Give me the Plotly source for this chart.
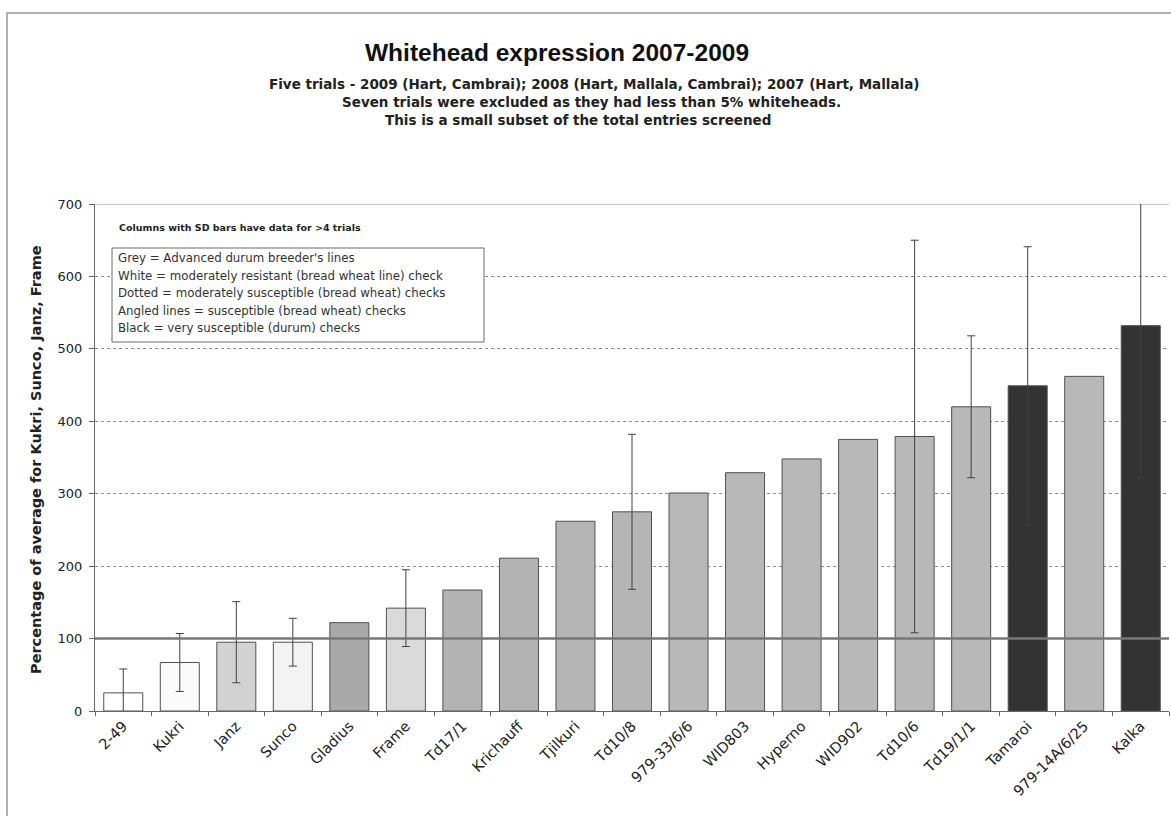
import plotly.graph_objects as go

categories = ["2-49", "Kukri", "Janz", "Sunco", "Gladius", "Frame", "Td17/1", "Krichauff",
              "Tjilkuri", "Td10/8", "979-33/6/6", "WID803", "Hyperno", "WID902", "Td10/6",
              "Td19/1/1", "Tamaroi", "979-14A/6/25", "Kalka"]
values = [25, 67, 95, 95, 122, 142, 167, 211, 262, 275, 301, 329, 348, 375, 379, 420, 449, 462, 532]
sd = [33, 40, 56, 33, None, 53, None, None, None, 107, None, None, None, None, 271, 98, 192, None, 210]
fills = ["#ffffff", "#fbfbfb", "#d2d2d2", "#f3f3f3", "#a9a9a9", "#dadada", "#b3b3b3", "#b3b3b3",
         "#b5b5b5", "#b5b5b5", "#b8b8b8", "#b8b8b8", "#b8b8b8", "#b8b8b8", "#b8b8b8", "#b8b8b8",
         "#333333", "#b8b8b8", "#333333"]

title = "Whitehead expression 2007-2009"
subtitles = ["Five trials - 2009 (Hart, Cambrai); 2008 (Hart, Mallala, Cambrai); 2007 (Hart, Mallala)",
             "Seven trials were excluded as they had less than 5% whiteheads.",
             "This is a small subset of the total entries screened"]
note = "Columns with SD bars have data for >4 trials"
legend_lines = ["Grey = Advanced durum breeder's lines",
                "White = moderately resistant (bread wheat line) check",
                "Dotted = moderately susceptible (bread wheat) checks",
                "Angled lines = susceptible (bread wheat) checks",
                "Black = very susceptible (durum) checks"]
y_title = "Percentage of average for Kukri, Sunco, Janz, Frame"
ref_value = 100

WIDE = "DejaVu Sans, Verdana, sans-serif"
ARIAL = "Liberation Sans, Arial, sans-serif"

fig = go.Figure()
fig.add_trace(go.Bar(
    x=categories, y=values,
    marker=dict(color=fills, line=dict(color="#505050", width=1)),
    width=0.69, showlegend=False, hoverinfo="x+y",
))
sd_x = [c for c, s in zip(categories, sd) if s is not None]
sd_y = [v for v, s in zip(values, sd) if s is not None]
sd_e = [s for s in sd if s is not None]
fig.add_trace(go.Scatter(
    x=sd_x, y=sd_y, mode="markers", marker=dict(size=1, opacity=0),
    error_y=dict(type="data", array=sd_e, visible=True, color="#404040", thickness=1, width=4),
    showlegend=False, hoverinfo="skip",
))

W, H = 1171, 816
L, R, T, B = 95, 2, 204, 105
pw, ph = W - L - R, H - T - B
def px(x): return (x - L) / pw
def py(y): return (H - B - y) / ph

shapes = [
    dict(type="line", xref="paper", yref="y", x0=0, x1=1, y0=700, y1=700,
         line=dict(color="#c8c8c8", width=2), layer="below"),
    dict(type="line", xref="paper", yref="y", x0=0, x1=1, y0=ref_value, y1=ref_value,
         line=dict(color="#777777", width=2.5), layer="above"),
    dict(type="path", xref="paper", yref="paper",
         path=f"M {px(7)} {py(816)} L {px(7)} {py(13)} L {px(1171)} {py(13)}",
         line=dict(color="#b0b0b0", width=2)),
    dict(type="rect", xref="paper", yref="paper", x0=px(112), x1=px(484), y0=py(342), y1=py(248),
         line=dict(color="#6a6a6a", width=1), fillcolor="rgba(255,255,255,1)", layer="above"),
]

ann = [
    dict(text=f"<b>{title}</b>", x=px(557), y=py(52), font=dict(size=24.5, color="#111", family=ARIAL)),
    dict(text=f"<b>{subtitles[0]}</b>", x=px(594), y=py(84), font=dict(size=13.5, color="#222", family=WIDE)),
    dict(text=f"<b>{subtitles[1]}</b>", x=px(591), y=py(102), font=dict(size=13.5, color="#222", family=WIDE)),
    dict(text=f"<b>{subtitles[2]}</b>", x=px(578), y=py(120), font=dict(size=13.5, color="#222", family=WIDE)),
    dict(text=f"<b>{note}</b>", x=px(117), y=py(227), xanchor="left", font=dict(size=9.5, color="#222", family=WIDE)),
]
for i, line in enumerate(legend_lines):
    ann.append(dict(text=line, x=px(116), y=py(258 + i * 17.5), xanchor="left",
                    font=dict(size=11.8, color="#333", family=WIDE)))
ann.append(dict(text=f"<b>{y_title}</b>", x=px(36), y=py(460), textangle=-90,
                font=dict(size=14.5, color="#222", family=WIDE)))
for a in ann:
    a.update(xref="paper", yref="paper", showarrow=False, yanchor="middle")
    a.setdefault("xanchor", "center")

fig.update_layout(
    width=W, height=H,
    margin=dict(l=L, r=R, t=T, b=B, pad=0),
    paper_bgcolor="white", plot_bgcolor="white",
    font=dict(family=WIDE, color="#222"),
    shapes=shapes, annotations=ann,
    xaxis=dict(type="category", range=[-0.5, len(categories) - 0.5], tickangle=-45,
               tickfont=dict(size=14.5, color="#222", family=WIDE),
               showline=True, linecolor="#666", linewidth=1, ticks="outside", ticklen=4,
               tickcolor="#666", tickson="boundaries", showgrid=False, fixedrange=True),
    yaxis=dict(range=[0, 700], dtick=100, tickfont=dict(size=13, color="#222", family=WIDE),
               showline=True, linecolor="#666", linewidth=1, ticks="outside", ticklen=5,
               tickcolor="#666", showgrid=True, gridcolor="#909090", griddash="dot",
               gridwidth=1, zeroline=False, ticksuffix=" ", fixedrange=True),
)

fig.write_html("out.html")
